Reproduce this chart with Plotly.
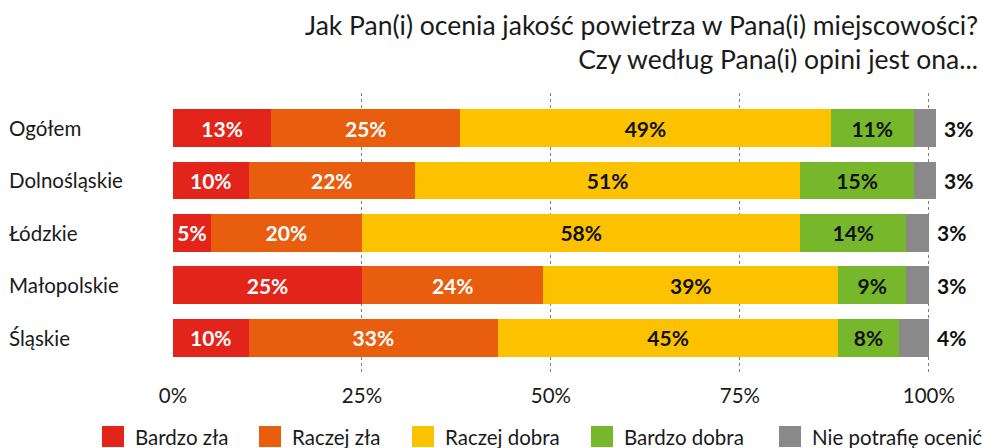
import plotly.graph_objects as go

categories = ["Ogółem", "Dolnośląskie", "Łódzkie", "Małopolskie", "Śląskie"]
series_names = ["Bardzo zła", "Raczej zła", "Raczej dobra", "Bardzo dobra", "Nie potrafię ocenić"]
bardzo_zla = [13, 10, 5, 25, 10]
raczej_zla = [25, 22, 20, 24, 33]
raczej_dobra = [49, 51, 58, 39, 45]
bardzo_dobra = [11, 15, 14, 9, 8]
nie_wiem = [3, 3, 3, 3, 4]
tick_vals = [0, 25, 50, 75, 100]
tick_text = ["0%", "25%", "50%", "75%", "100%"]
title_text = "Jak Pan(i) ocenia jakość powietrza w Pana(i) miejscowości?<br>Czy według Pana(i) opini jest ona..."

colors = ["#E3241B", "#E95D0F", "#FCC200", "#77B72B", "#898989"]
text_colors = ["white", "white", "#111111", "#111111", "#111111"]
series = [bardzo_zla, raczej_zla, raczej_dobra, bardzo_dobra, nie_wiem]

FONT = "Lato"
OFF = 8  # page body margin
W, H = 995 - OFF, 448 - OFF
X0, X1 = 173, 944
Y0, Y1 = 93, 375
ML, MR = X0 - OFF, 995 - X1
MT, MB = Y0 - OFF, 448 - Y1
PW = X1 - X0
PH = Y1 - Y0


def px(x):
    return (x - X0) / PW


def py(y):
    return (Y1 - y) / PH


fig = go.Figure()
for i, (name, vals) in enumerate(zip(series_names, series)):
    show_text = i < 4
    fig.add_trace(go.Bar(
        y=categories, x=vals, name=name, orientation="h",
        marker=dict(color=colors[i], line=dict(width=0)),
        text=[f"{v}%" for v in vals] if show_text else None,
        textposition="inside" if show_text else "none",
        insidetextanchor="middle",
        textangle=0,
        constraintext="none",
        textfont=dict(family=FONT, size=21, color=text_colors[i], weight="bold"),
        showlegend=False,
        hoverinfo="skip",
    ))

annotations = []
totals = [sum(s[j] for s in series) for j in range(len(categories))]
for j, cat in enumerate(categories):
    annotations.append(dict(
        x=totals[j], y=cat, xref="x", yref="y", text=f"{nie_wiem[j]}%",
        xanchor="left", yanchor="middle", xshift=6, showarrow=False,
        font=dict(family=FONT, size=21, color="#111111", weight="bold"),
    ))
    annotations.append(dict(
        x=px(7), y=cat, xref="paper", yref="y", text=cat,
        xanchor="left", yanchor="middle", showarrow=False,
        font=dict(family=FONT, size=20.5, color="#1a1a1a"),
    ))

annotations.append(dict(
    x=px(979), y=py(8), xref="paper", yref="paper",
    text=title_text, xanchor="right", yanchor="top", align="right", showarrow=False,
    borderpad=0,
    font=dict(family=FONT, size=26.5, color="#1a1a1a"),
))

legend_x = [102, 259, 412, 591, 779]
shapes = []
for i, name in enumerate(series_names):
    shapes.append(dict(type="rect", xref="paper", yref="paper",
                       x0=px(legend_x[i]), x1=px(legend_x[i] + 22),
                       y0=py(447), y1=py(426),
                       fillcolor=colors[i], line=dict(width=0)))
    annotations.append(dict(
        x=px(legend_x[i] + 31), y=py(436.5), xref="paper", yref="paper",
        text=name, xanchor="left", yanchor="middle", showarrow=False,
        font=dict(family=FONT, size=20.5, color="#1a1a1a"),
    ))

fig.update_layout(
    width=W, height=H,
    barmode="stack", bargap=0.28,
    margin=dict(l=ML, r=MR, t=MT, b=MB, pad=0),
    paper_bgcolor="white", plot_bgcolor="white",
    font=dict(family=FONT, size=20, color="#1a1a1a"),
    annotations=annotations, shapes=shapes,
    xaxis=dict(range=[0, 102], tickvals=tick_vals, ticktext=tick_text,
               showgrid=True, gridcolor="#7f7f7f", griddash="dot", gridwidth=1,
               zeroline=False, showline=False, ticks="", fixedrange=True,
               ticklabelstandoff=6,
               tickfont=dict(family=FONT, size=20.5, color="#1a1a1a")),
    yaxis=dict(categoryorder="array", categoryarray=categories,
               range=[4.712, -0.668], showticklabels=False, showgrid=False,
               zeroline=False, showline=False, ticks=""),
)

fig.write_html("out.html", config={"displayModeBar": False})
